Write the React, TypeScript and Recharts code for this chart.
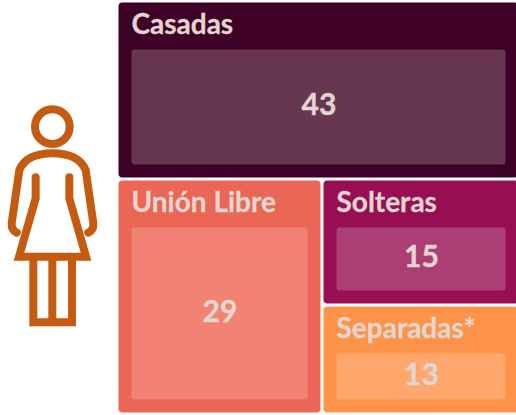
import React from 'react';
import { Treemap } from 'recharts';

const categories = ['Casadas', 'Unión Libre', 'Solteras', 'Separadas*'];
const values = [43, 29, 15, 13];
const cellColors = ['#3F0027', '#EB6654', '#970E53', '#FF934A'];
const panelColors = ['#673650', '#F18274', '#AB3E74', '#FFA76C'];

const data = categories.map((name, i) => ({ name, size: values[i] }));

const FONT = 'Lato, sans-serif';
const TEXT = '#E4D5D0';

function Cell(props: any) {
  const { x, y, width, height, depth, name, value } = props;
  if (depth !== 1) return null;
  const i = categories.indexOf(name);
  const left = x + 1.5;
  const top = y + 1.5;
  const w = width - 3;
  const h = height - 3;
  const panelH = h - 47 - 13;
  return (
    <g>
      <rect x={left} y={top} width={w} height={h} rx={4} fill={cellColors[i]} />
      <rect x={left + 13} y={top + 47} width={w - 26} height={panelH} rx={3} fill={panelColors[i]} />
      <text x={left + 13} y={top + 31} fontFamily={FONT} fontWeight={700} fontSize={28} fill={TEXT} stroke={TEXT} strokeWidth={0.3}>
        {name}
      </text>
      <text
        x={left + w / 2 + 0.5}
        y={top + 47 + panelH / 2 + 8}
        textAnchor="middle"
        fontFamily={FONT}
        fontWeight={700}
        fontSize={30}
        fill={TEXT}
        stroke={TEXT}
        strokeWidth={0.4}
      >
        {value}
      </text>
    </g>
  );
}

function WomanIcon() {
  return (
    <svg
      width={120}
      height={250}
      viewBox="0 0 360 750"
      style={{ position: 'absolute', left: 0, top: 90 }}
      fill="none"
      stroke="#C55A11"
      strokeWidth={24}
    >
      <circle cx={157} cy={110} r={52} />
      <path
        d="M50 428 Q34 420 35 400 L58 240 Q80 190 157 190 Q235 190 257 240 L280 400 Q281 420 265 428"
        strokeLinecap="round"
      />
      <path d="M107 262 L107 325 L57 500 L258 500 L208 325 L208 262" strokeLinecap="round" />
      <path d="M100 505 L100 697 L216 697 L216 505 M157 505 L157 697" />
    </svg>
  );
}

export default function App() {
  return (
    <div style={{ position: 'absolute', left: 0, top: 0, width: 516, height: 415, overflow: 'hidden', background: '#fff' }}>
      <WomanIcon />
      <div style={{ position: 'absolute', left: 116.5, top: 0.5 }}>
        <Treemap
          width={403}
          height={413}
          data={data}
          dataKey="size"
          nameKey="name"
          type="flat"
          aspectRatio={0.5}
          stroke="none"
          isAnimationActive={false}
          content={<Cell />}
        />
      </div>
    </div>
  );
}
